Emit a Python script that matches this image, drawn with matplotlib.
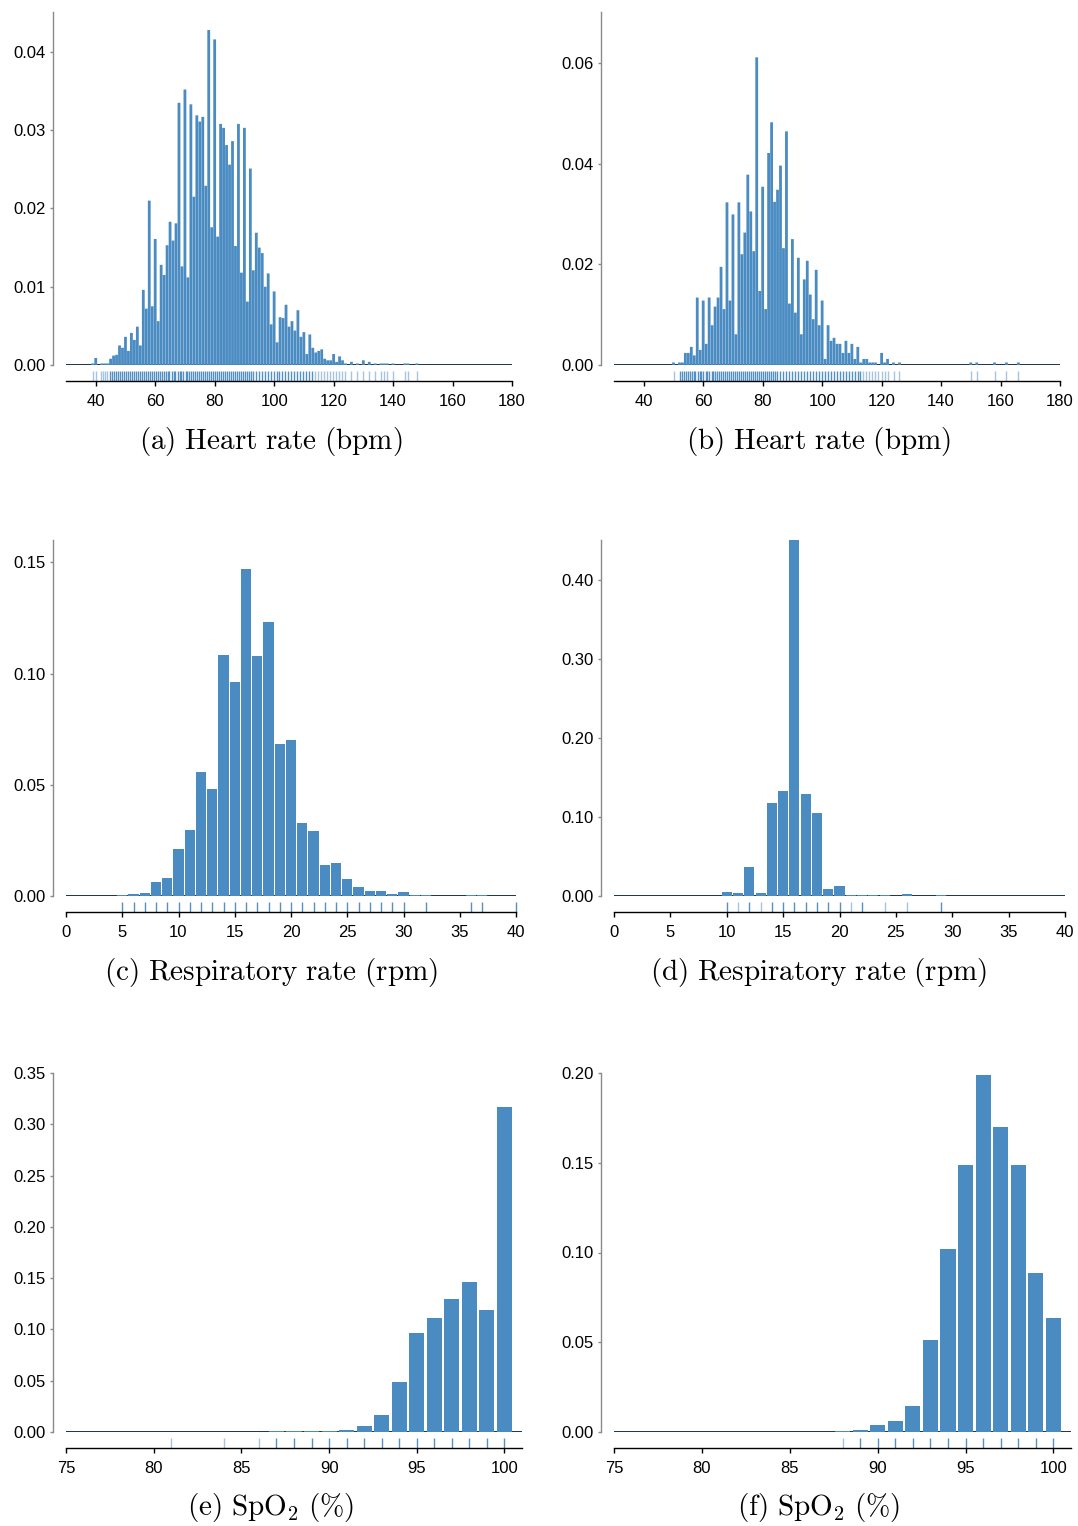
import numpy as np
import matplotlib
matplotlib.use("Agg")
import matplotlib.pyplot as plt

plt.rcParams['font.family'] = ['Liberation Sans', 'DejaVu Sans']
plt.rcParams['mathtext.fontset'] = 'cm'

BLUE = '#4a8bc2'
BASE = '#1f3449'

# ---- heart rate, panel (a): 1 bpm bins centred on integers ----
hr_a_bins = list(range(39, 149))
hr_a = [0.0002, 0.0009, 0.0, 0.0002, 0.0002, 0.0002, 0.0008, 0.0012, 0.0013, 0.0025,
        0.0022, 0.0036, 0.0018, 0.0041, 0.0032, 0.0049, 0.0025, 0.0096, 0.0072, 0.0210,
        0.0075, 0.0161, 0.0056, 0.0128, 0.0115, 0.0153, 0.0183, 0.0159, 0.0181, 0.0335,
        0.0126, 0.0352, 0.0112, 0.0333, 0.0215, 0.0319, 0.0311, 0.0317, 0.0229, 0.0428,
        0.0176, 0.0416, 0.0164, 0.0308, 0.0303, 0.0281, 0.0256, 0.0286, 0.0152, 0.0308,
        0.0118, 0.0303, 0.0081, 0.0251, 0.0121, 0.0169, 0.0150, 0.0143, 0.0100, 0.0117,
        0.0052, 0.0094, 0.0029, 0.0061, 0.0060, 0.0077, 0.0049, 0.0056, 0.0044, 0.0070,
        0.0036, 0.0042, 0.0014, 0.0039, 0.0022, 0.0016, 0.0018, 0.0020, 0.0008, 0.0006,
        0.0006, 0.0014, 0.0004, 0.0011, 0.0006, 0.0002, 0.0, 0.0004, 0.0, 0.0002,
        0.0, 0.0006, 0.0, 0.0004, 0.0, 0.0002, 0.0, 0.0002, 0.0002, 0.0002,
        0.0, 0.0002, 0.0, 0.0, 0.0, 0.0002, 0.0002, 0.0, 0.0, 0.0002]
hr_a_rug = [44.8, 45.5, 46.2, 46.8, 47.5, 48.2, 48.8, 49.5, 50.2, 50.8, 51.5, 52.2,
            52.8, 53.5, 54.2, 54.8, 55.5, 56.2, 56.8, 57.5, 58.2, 58.8, 59.5, 60.2,
            60.8, 61.5, 62.2, 62.8, 63.5, 64.2, 64.8, 65.5, 66.2, 66.8, 67.5, 68.2,
            68.8, 69.5, 70.2, 70.8, 71.5, 72.2, 72.8, 73.5, 74.2, 74.8, 75.5, 76.2,
            76.8, 77.5, 78.2, 78.8, 79.5, 80.2, 80.8, 81.5, 82.2, 82.8, 83.5, 84.2,
            84.8, 85.5, 86.2, 86.8, 87.5, 88.2, 88.8, 89.5, 90.2, 90.8, 91.5, 92.2,
            92.8, 93.8, 94.8, 95.8, 96.8, 97.8, 98.8, 99.8, 100.8, 101.8, 102.8, 103.8,
            104.8, 105.8, 106.8, 107.8, 108.8, 109.8, 110.8, 111.8, 112.8]
hr_a_rug_light = [39, 40, 41.8, 42.5, 43.1, 43.8, 113.8, 114.8, 115.8, 116.8, 117.9,
                  118.9, 119.9, 120.9, 121.9, 122.9, 123.9, 125.9, 127.9, 129.9, 131.9,
                  133.9, 135.9, 137.0, 138.0, 140.0, 144.0, 145.0, 148.0]

# ---- heart rate, panel (b) ----
hr_b_bins = list(range(50, 127)) + [150, 152, 158, 162, 166]
hr_b = [0.0005, 0.0, 0.0005, 0.0005, 0.0024, 0.0024, 0.0036, 0.0019, 0.0134, 0.0030,
        0.0128, 0.0042, 0.0134, 0.0079, 0.0116, 0.0134, 0.0195, 0.0111, 0.0323, 0.0128,
        0.0299, 0.0061, 0.0323, 0.0220, 0.0263, 0.0378, 0.0305, 0.0226, 0.0611, 0.0147,
        0.0354, 0.0111, 0.0421, 0.0482, 0.0324, 0.0348, 0.0396, 0.0232, 0.0464, 0.0122,
        0.0250, 0.0104, 0.0213, 0.0061, 0.0170, 0.0207, 0.0140, 0.0091, 0.0189, 0.0079,
        0.0128, 0.0012, 0.0079, 0.0048, 0.0054, 0.0042, 0.0042, 0.0024, 0.0048, 0.0024,
        0.0042, 0.0012, 0.0036, 0.0005, 0.0012, 0.0012, 0.0005, 0.0005, 0.0005, 0.0,
        0.0024, 0.0005, 0.0012, 0.0, 0.0005, 0.0, 0.0005,
        0.0005, 0.0005, 0.0005, 0.0005, 0.0005]
hr_b_rug = [52.1, 52.8, 53.4, 54.1, 54.8, 55.4, 56.1, 56.8, 57.4, 58.1, 58.8, 59.4,
            60.1, 60.8, 61.4, 62.1, 62.8, 63.4, 64.1, 64.8, 65.4, 66.1, 66.8, 67.4,
            68.1, 68.8, 69.4, 70.1, 70.8, 71.4, 72.1, 72.8, 73.4, 74.1, 74.8, 75.4,
            76.1, 76.8, 77.4, 78.1, 78.8, 79.4, 80.1, 80.8, 81.4, 82.1, 82.8, 83.4,
            84.1, 84.9, 85.9, 86.9, 87.9, 88.9, 89.9, 90.9, 91.9, 92.9, 93.9, 94.9,
            95.9, 96.9, 97.9, 98.9, 99.9, 100.9, 101.9, 102.9, 103.9, 104.9, 105.9,
            106.9, 107.9, 108.9, 109.9, 110.9, 111.9, 112.9]
hr_b_rug_light = [50.2, 113.9, 114.9, 115.9, 116.9, 117.9, 118.9, 120.1, 121.0, 122.1,
                  124.1, 126.0, 150, 152, 158, 162, 166]

# ---- respiratory rate ----
rr_bins = list(range(0, 41))
rr_c = [0.0001, 0.0001, 0.0001, 0.0001, 0.0001, 0.0004, 0.0009, 0.0015, 0.0064, 0.0079,
        0.0213, 0.0296, 0.0557, 0.0482, 0.1085, 0.0962, 0.1468, 0.1078, 0.1230, 0.0681,
        0.0703, 0.0328, 0.0293, 0.0138, 0.0148, 0.0075, 0.0042, 0.0022, 0.0022, 0.0007,
        0.0018, 0.0003, 0.0004, 0.0002, 0.0002, 0.0002, 0.0004, 0.0003, 0.0001, 0.0001,
        0.0002]
rr_d = [0.0, 0.0, 0.0, 0.0, 0.0, 0.0, 0.0, 0.0, 0.0, 0.0,
        0.0055, 0.0034, 0.0363, 0.0034, 0.1173, 0.1333, 0.4500, 0.1291, 0.1051, 0.0084,
        0.0127, 0.0013, 0.0013, 0.0008, 0.0008, 0.0004, 0.0020, 0.0004, 0.0004, 0.0008,
        0.0, 0.0, 0.0, 0.0, 0.0, 0.0, 0.0, 0.0, 0.0, 0.0,
        0.0]
rr_c_rug = [5, 6, 7, 8, 9, 10, 11, 12, 13, 14, 15, 16, 17, 18, 19, 20, 21, 22, 23, 24,
            25, 26, 27, 28, 29, 30, 32, 36, 37, 40]
rr_c_rug_light = []
rr_d_rug = [10, 12, 14, 15, 16, 17, 18, 19, 20, 22, 29]
rr_d_rug_light = [11, 13, 21, 24, 26]

# ---- SpO2 ----
spo2_bins = list(range(75, 101))
spo2_e = [0.0, 0.0, 0.0, 0.0, 0.0, 0.0, 0.0, 0.0, 0.0, 0.0, 0.0, 0.0,
          0.0007, 0.0006, 0.0006, 0.0013, 0.0020, 0.0055, 0.0169, 0.0490, 0.0962,
          0.1110, 0.1300, 0.1466, 0.1190, 0.3168]
spo2_f = [0.0, 0.0, 0.0, 0.0, 0.0, 0.0, 0.0, 0.0, 0.0, 0.0, 0.0, 0.0, 0.0,
          0.0004, 0.0009, 0.0039, 0.0059, 0.0145, 0.0511, 0.1020, 0.1489, 0.1991,
          0.1699, 0.1489, 0.0884, 0.0633]
spo2_e_rug = [87, 88, 89, 90, 91, 92, 93, 94, 95, 96, 97, 98, 99, 100]
spo2_e_rug_light = [81, 84, 86]
spo2_f_rug = [89, 90, 91, 92, 93, 94, 95, 96, 97, 98, 99, 100]
spo2_f_rug_light = [88]

W, H = 1078, 1526
fig = plt.figure(figsize=(W / 100, H / 100), dpi=100)


def panel(box, bins, vals, rug, rug_light, xlim, xticks, ylim, yticks, bw, caption, cpos,
          snap=True):
    x0, x1, ytop, ybase = box
    ax = fig.add_axes([x0 / W, 1 - ybase / H, (x1 - x0) / W, (ybase - ytop) / H])
    ax.set_facecolor('none')
    # gaps between bars come from the bar width, so tiny bars stay visible
    bars = ax.bar(bins, vals, width=bw, color=BLUE, linewidth=0, zorder=2)
    if not snap:
        for b in bars:
            b.set_snap(False)
    ax.axhline(0, color=BASE, lw=1.4, zorder=1)
    hpx = ybase - ytop
    trans = ax.get_xaxis_transform()
    ax.vlines(rug, -16 / hpx, -6 / hpx, transform=trans, clip_on=False,
              colors=BLUE, lw=1.0, alpha=0.95)
    if rug_light:
        ax.vlines(rug_light, -16 / hpx, -6 / hpx, transform=trans, clip_on=False,
                  colors=BLUE, lw=1.0, alpha=0.5)
    ax.set_xlim(*xlim)
    ax.set_ylim(*ylim)
    ax.set_xticks(xticks)
    ax.set_yticks(yticks)
    ax.set_yticklabels(['%.2f' % v for v in yticks])
    for s in ['top', 'right']:
        ax.spines[s].set_visible(False)
    ax.spines['left'].set_position(('outward', 9.4))
    ax.spines['left'].set_color('#8a8a8a')
    ax.spines['left'].set_linewidth(1.0)
    ax.spines['bottom'].set_position(('outward', 11.6))
    ax.spines['bottom'].set_color('black')
    ax.spines['bottom'].set_linewidth(1.0)
    ax.tick_params(axis='y', direction='out', length=2.5, width=1.0, color='#8a8a8a',
                   labelcolor='black', labelsize=12, pad=3)
    ax.tick_params(axis='x', direction='out', length=3.5, width=1.0, color='black',
                   labelcolor='black', labelsize=12, pad=6)
    fig.text(cpos[0] / W, 1 - cpos[1] / H, caption, ha='center', va='center', fontsize=21)
    return ax


hr_ticks = [40, 60, 80, 100, 120, 140, 160, 180]
rr_ticks = [0, 5, 10, 15, 20, 25, 30, 35, 40]
sp_ticks = [75, 80, 85, 90, 95, 100]

panel((66, 512, 12, 365), hr_a_bins, hr_a, hr_a_rug, hr_a_rug_light, (30, 180), hr_ticks,
      (0, 0.0451), [0.0, 0.01, 0.02, 0.03, 0.04], 0.94,
      r'$\mathrm{(a)\ Heart\ rate\ (bpm)}$', (271, 441), snap=False)
panel((614, 1060, 12, 365), hr_b_bins, hr_b, hr_b_rug, hr_b_rug_light, (30, 180), hr_ticks,
      (0, 0.0701), [0.0, 0.02, 0.04, 0.06], 0.94,
      r'$\mathrm{(b)\ Heart\ rate\ (bpm)}$', (819, 441), snap=False)
panel((66, 516, 540, 896), rr_bins, rr_c, rr_c_rug, rr_c_rug_light, (0, 40), rr_ticks,
      (0, 0.16), [0.0, 0.05, 0.10, 0.15], 0.89,
      r'$\mathrm{(c)\ Respiratory\ rate\ (rpm)}$', (271, 972))
panel((614, 1065, 540, 896), rr_bins, rr_d, rr_d_rug, rr_d_rug_light, (0, 40), rr_ticks,
      (0, 0.45), [0.0, 0.10, 0.20, 0.30, 0.40], 0.89,
      r'$\mathrm{(d)\ Respiratory\ rate\ (rpm)}$', (819, 972))
panel((66, 522, 1073, 1432), spo2_bins, spo2_e, spo2_e_rug, spo2_e_rug_light, (75, 101), sp_ticks,
      (0, 0.35), [0.0, 0.05, 0.10, 0.15, 0.20, 0.25, 0.30, 0.35], 0.86,
      r'$\mathrm{(e)\ SpO_2\ (\%)}$', (271, 1507))
panel((614, 1071, 1073, 1432), spo2_bins, spo2_f, spo2_f_rug, spo2_f_rug_light, (75, 101), sp_ticks,
      (0, 0.20), [0.0, 0.05, 0.10, 0.15, 0.20], 0.86,
      r'$\mathrm{(f)\ SpO_2\ (\%)}$', (819, 1507))

fig.savefig('out.png', dpi=100)
